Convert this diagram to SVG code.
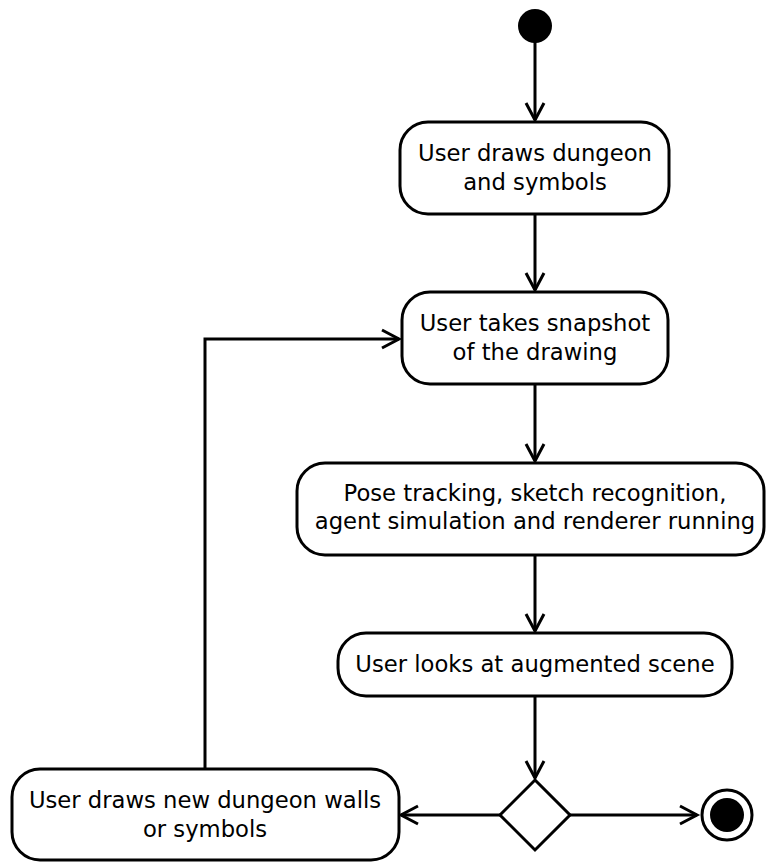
<svg xmlns="http://www.w3.org/2000/svg" width="766" height="862" viewBox="0 0 766 862">
  <style>
    .act { fill: #ffffff; stroke: #000000; stroke-width: 3; }
    .lbl { font-family: "DejaVu Sans", sans-serif; font-size: 22.7px; fill: #000000; text-anchor: middle; }
    .edge { fill: none; stroke: #000000; stroke-width: 3; }
    .head { fill: none; stroke: #000000; stroke-width: 3; stroke-linejoin: miter; }
  </style>
  <rect width="766" height="862" fill="#ffffff"/>

  <!-- flow connectors -->
  <g id="connectors">
    <path class="edge" d="M535 42 V120"/>
    <path class="head" d="M526 103 L535 120 L544 103"/>
    <path class="edge" d="M535 214 V290"/>
    <path class="head" d="M526 273 L535 290 L544 273"/>
    <path class="edge" d="M535 384 V461"/>
    <path class="head" d="M526 444 L535 461 L544 444"/>
    <path class="edge" d="M535 555 V631"/>
    <path class="head" d="M526 614 L535 631 L544 614"/>
    <path class="edge" d="M535 696 V778"/>
    <path class="head" d="M526 761 L535 778 L544 761"/>
    <path class="edge" d="M500 815 H401"/>
    <path class="head" d="M418 806 L401 815 L418 824"/>
    <path class="edge" d="M570 815 H697"/>
    <path class="head" d="M680 806 L697 815 L680 824"/>
    <path class="edge" d="M205 769 V339 H399"/>
    <path class="head" d="M382 330 L399 339 L382 348"/>
  </g>

  <g id="start">
    <circle cx="535" cy="26" r="17" fill="#000000"/>
  </g>

  <g id="draw-dungeon">
    <rect class="act" x="400" y="122" width="269" height="92" rx="28" ry="28"/>
    <text class="lbl" x="535" y="161">User draws dungeon</text>
    <text class="lbl" x="535" y="190">and symbols</text>
  </g>

  <g id="take-snapshot">
    <rect class="act" x="402" y="292" width="266" height="92" rx="28" ry="28"/>
    <text class="lbl" x="535" y="331">User takes snapshot</text>
    <text class="lbl" x="535" y="360">of the drawing</text>
  </g>

  <g id="processing">
    <rect class="act" x="297" y="463" width="467" height="92" rx="28" ry="28"/>
    <text class="lbl" x="535" y="501">Pose tracking, sketch recognition,</text>
    <text class="lbl" x="535" y="529">agent simulation and renderer running</text>
  </g>

  <g id="look-scene">
    <rect class="act" x="338" y="633" width="394" height="63" rx="28" ry="28"/>
    <text class="lbl" x="535" y="672">User looks at augmented scene</text>
  </g>

  <g id="decision">
    <polygon class="act" points="535,780 570,815 535,850 500,815"/>
  </g>

  <g id="draw-new">
    <rect class="act" x="12" y="769" width="387" height="91" rx="28" ry="28"/>
    <text class="lbl" x="205" y="808">User draws new dungeon walls</text>
    <text class="lbl" x="205" y="837">or symbols</text>
  </g>

  <g id="end">
    <circle cx="727" cy="815" r="25" fill="#ffffff" stroke="#000000" stroke-width="3"/>
    <circle cx="727" cy="815" r="17" fill="#000000"/>
  </g>
</svg>
